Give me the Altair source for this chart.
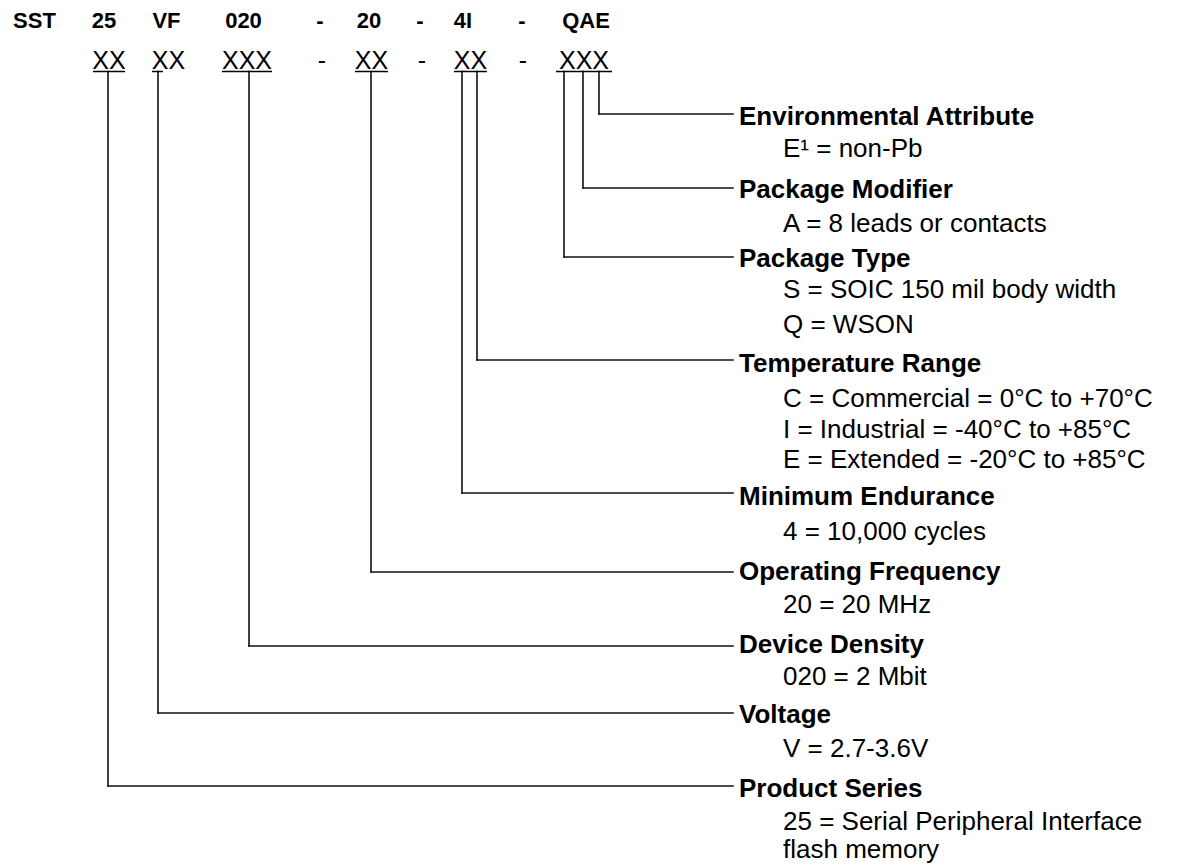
import altair as alt
import pandas as pd

# ---- data (page pixel coordinates) ----
top_codes = ["SST", "25", "VF", "020", "-", "20", "-", "4I", "-", "QAE"]
top_code_x = [34.5, 104, 166.5, 243.5, 320, 369, 420, 463, 522, 586]
top_code_y = 28

field_marks = ["XX", "XX", "XXX", "-", "XX", "-", "XX", "-", "XXX"]
field_mark_x = [109, 168.5, 247, 322, 371.5, 422, 470.5, 523, 584]
field_mark_y = 69

underline_start = [93, 152, 222, 355, 454, 556]
underline_end = [125, 163, 272, 388, 487, 612]
underline_y = 71.5

field_titles = ["Environmental Attribute", "Package Modifier", "Package Type",
                "Temperature Range", "Minimum Endurance", "Operating Frequency",
                "Device Density", "Voltage", "Product Series"]
field_title_y = [125, 198, 267, 372, 505, 580, 653, 723, 797]
branch_x = [599, 583, 564, 477, 462, 371, 249, 158, 108]
branch_y = [114, 188, 257, 360, 493, 572, 646, 713, 786]
branch_end_x = 733
title_x = 739

descriptions = ["E\u00b9 = non-Pb", "A = 8 leads or contacts",
                "S = SOIC 150 mil body width", "Q = WSON",
                "C = Commercial = 0\u00b0C to +70\u00b0C",
                "I = Industrial = -40\u00b0C to +85\u00b0C",
                "E = Extended = -20\u00b0C to +85\u00b0C",
                "4 = 10,000 cycles", "20 = 20 MHz", "020 = 2 Mbit",
                "V = 2.7-3.6V", "25 = Serial Peripheral Interface", "flash memory"]
description_y = [157, 232, 298, 333, 407, 438, 468, 540, 613, 685, 757, 830, 858]
description_x = 783

# ---- tables ----
top_df = pd.DataFrame({"x": top_code_x, "y": top_code_y, "t": top_codes})
mark_df = pd.DataFrame({"x": field_mark_x, "y": field_mark_y, "t": field_marks})
ul_df = pd.DataFrame({"x": underline_start, "x2": underline_end, "y": underline_y})
title_df = pd.DataFrame({"x": title_x, "y": field_title_y, "t": field_titles})
desc_df = pd.DataFrame({"x": description_x, "y": description_y, "t": descriptions})
vert_df = pd.DataFrame({"x": branch_x, "y": underline_y, "y2": branch_y})
horiz_df = pd.DataFrame({"x": branch_x, "x2": branch_end_x, "y": branch_y})

FONT = "Liberation Sans"
xs = alt.Scale(domain=[8, 1170], nice=False, zero=False)
ys = alt.Scale(domain=[8, 867], nice=False, zero=False, reverse=True)
X = lambda f="x": alt.X(f"{f}:Q", scale=xs, axis=None)
Y = lambda f="y": alt.Y(f"{f}:Q", scale=ys, axis=None)

top_layer = alt.Chart(top_df).mark_text(
    font=FONT, fontSize=22, fontWeight="bold", align="center",
    baseline="alphabetic", color="black"
).encode(x=X(), y=Y(), text="t:N")

mark_layer = alt.Chart(mark_df).mark_text(
    font=FONT, fontSize=25, align="center", baseline="alphabetic", color="black"
).encode(x=X(), y=Y(), text="t:N")

ul_layer = alt.Chart(ul_df).mark_rule(color="black", strokeWidth=1.5).encode(
    x=X(), x2="x2:Q", y=Y())

vert_layer = alt.Chart(vert_df).mark_rule(
    color="#111", strokeWidth=1.6, strokeCap="square").encode(x=X(), y=Y(), y2="y2:Q")
horiz_layer = alt.Chart(horiz_df).mark_rule(
    color="#111", strokeWidth=1.6, strokeCap="square").encode(x=X(), x2="x2:Q", y=Y())

title_layer = alt.Chart(title_df).mark_text(
    font=FONT, fontSize=26, fontWeight="bold", align="left",
    baseline="alphabetic", color="black"
).encode(x=X(), y=Y(), text="t:N")

desc_layer = alt.Chart(desc_df).mark_text(
    font=FONT, fontSize=26, align="left", baseline="alphabetic", color="black"
).encode(x=X(), y=Y(), text="t:N")

chart = alt.layer(
    vert_layer, horiz_layer, ul_layer, top_layer, mark_layer, title_layer, desc_layer
).properties(
    width=1162, height=859, padding=0,
    autosize=alt.AutoSizeParams(type="none"), background="white"
).configure_view(stroke=None)

chart.save("out.html", embed_options={"renderer": "svg", "actions": False})
